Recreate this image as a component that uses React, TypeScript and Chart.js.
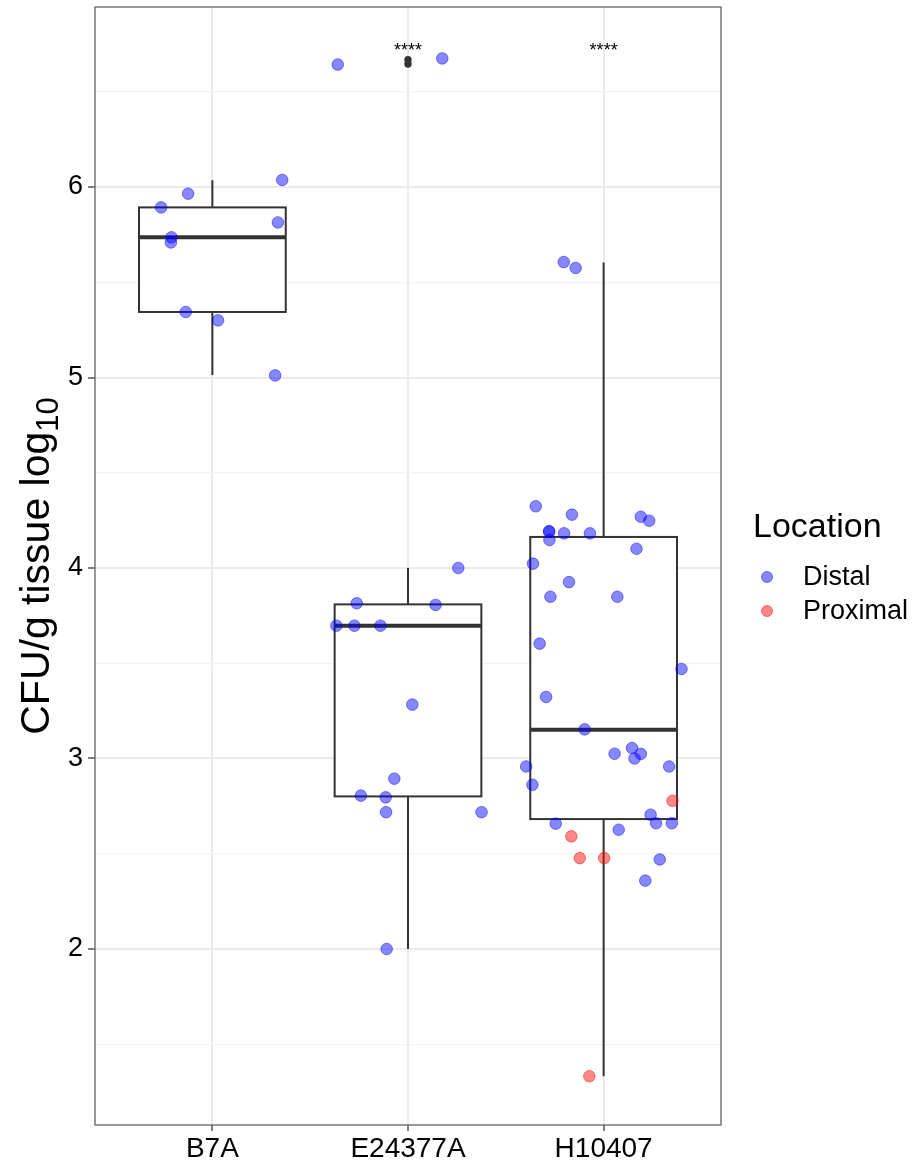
import React, { useEffect, useRef } from "react";
import { Chart, registerables } from "chart.js";

Chart.register(...registerables);

// ---------- data ----------
const CATEGORIES = ["B7A", "E24377A", "H10407"];
const Y_MAJOR_TICKS = [2, 3, 4, 5, 6];
const Y_MINOR_TICKS = [1.5, 2.5, 3.5, 4.5, 5.5, 6.5];
const SERIES = ["Distal", "Proximal"];

// B7A (all distal)
const B7A_DISTAL_Y = [6.037, 5.965, 5.893, 5.814, 5.736, 5.709, 5.344, 5.3, 5.011];
const B7A_DISTAL_JITTER = [0.357, -0.124, -0.262, 0.335, -0.209, -0.212, -0.136, 0.029, 0.321];

// E24377A (all distal)
const E24377A_DISTAL_Y = [6.643, 6.675, 4.0, 3.815, 3.806, 3.697, 3.697, 3.697, 3.283, 2.894, 2.805, 2.796, 2.718, 2.718, 2.0];
const E24377A_DISTAL_JITTER = [-0.359, 0.175, 0.257, -0.262, 0.141, -0.366, -0.274, -0.141, 0.022, -0.07, -0.241, -0.114, -0.112, 0.376, -0.109];

// H10407
const H10407_DISTAL_Y = [
  5.606, 5.575, 4.324, 4.28, 4.269, 4.248, 4.194, 4.19, 4.147, 4.182, 4.182, 4.101, 4.023, 3.926, 3.849, 3.849,
  3.603, 3.47, 3.323, 3.153, 3.055, 3.025, 3.024, 3.0, 2.958, 2.958, 2.862, 2.705, 2.658, 2.66, 2.66, 2.626, 2.47, 2.359,
];
const H10407_DISTAL_JITTER = [
  -0.204, -0.143, -0.347, -0.162, 0.19, 0.233, -0.279, -0.278, -0.277, -0.202, -0.07, 0.168, -0.361, -0.177, -0.272, 0.07,
  -0.327, 0.398, -0.294, -0.097, 0.145, 0.056, 0.19, 0.158, -0.396, 0.335, -0.364, 0.24, -0.245, 0.268, 0.349, 0.077, 0.287, 0.213,
];
const H10407_PROXIMAL_Y = [2.778, 2.591, 2.477, 2.477, 1.332];
const H10407_PROXIMAL_JITTER = [0.352, -0.165, -0.122, 0.003, -0.073];

// box statistics per category
const BOX_Q1 = [5.344, 2.801, 2.682];
const BOX_MEDIAN = [5.736, 3.697, 3.151];
const BOX_Q3 = [5.893, 3.809, 4.163];
const WHISKER_LOW = [5.013, 2.0, 1.332];
const WHISKER_HIGH = [6.035, 4.0, 5.604];
const OUTLIERS = [[], [6.668, 6.646], []];
const BOX_WIDTH = 0.75;

// significance labels
const SIGNIF_LABELS = ["", "****", "****"];
const SIGNIF_Y = 6.69;

const Y_MIN = 1.076;
const Y_MAX = 6.945;
const X_MIN = -0.6;
const X_MAX = 2.6;

// ---------- styles ----------
const FONT = "'Liberation Sans', Arial, Helvetica, sans-serif";
const DISTAL_COLOR = "rgba(0,0,255,0.47)";
const PROXIMAL_COLOR = "rgba(255,0,0,0.47)";
const BOX_COLOR = "#333333";

function pts(cat: number, ys: number[], jit: number[]) {
  return ys.map((y, i) => ({ x: cat + jit[i], y }));
}

const boxPlugin = {
  id: "boxPlugin",
  beforeDatasetsDraw(chart: any) {
    const { ctx, scales } = chart;
    const xs = scales.x;
    const ys = scales.y;
    ctx.save();
    CATEGORIES.forEach((_, i) => {
      const cx = xs.getPixelForValue(i);
      const hw = Math.abs(xs.getPixelForValue(i + BOX_WIDTH / 2) - cx);
      const q1 = ys.getPixelForValue(BOX_Q1[i]);
      const q3 = ys.getPixelForValue(BOX_Q3[i]);
      const med = ys.getPixelForValue(BOX_MEDIAN[i]);
      const lo = ys.getPixelForValue(WHISKER_LOW[i]);
      const hi = ys.getPixelForValue(WHISKER_HIGH[i]);
      ctx.strokeStyle = BOX_COLOR;
      ctx.lineWidth = 2;
      ctx.beginPath();
      ctx.moveTo(cx, q3);
      ctx.lineTo(cx, hi);
      ctx.moveTo(cx, q1);
      ctx.lineTo(cx, lo);
      ctx.stroke();
      ctx.fillStyle = "#ffffff";
      ctx.fillRect(cx - hw, q3, 2 * hw, q1 - q3);
      ctx.strokeRect(cx - hw, q3, 2 * hw, q1 - q3);
      ctx.lineWidth = 4;
      ctx.beginPath();
      ctx.moveTo(cx - hw, med);
      ctx.lineTo(cx + hw, med);
      ctx.stroke();
      ctx.fillStyle = BOX_COLOR;
      OUTLIERS[i].forEach((v) => {
        ctx.beginPath();
        ctx.arc(cx, ys.getPixelForValue(v), 3.7, 0, Math.PI * 2);
        ctx.fill();
      });
      if (SIGNIF_LABELS[i]) {
        ctx.fillStyle = "#000";
        ctx.font = `18px ${FONT}`;
        ctx.textAlign = "center";
        ctx.textBaseline = "alphabetic";
        ctx.fillText(SIGNIF_LABELS[i], cx, ys.getPixelForValue(SIGNIF_Y));
      }
    });
    ctx.restore();
  },
  afterDraw(chart: any) {
    const { ctx, chartArea } = chart;
    ctx.save();
    // panel border
    ctx.strokeStyle = "#6e6e6e";
    ctx.lineWidth = 1.4;
    ctx.strokeRect(chartArea.left, chartArea.top, chartArea.right - chartArea.left, chartArea.bottom - chartArea.top);

    // y title with subscript
    const mainFont = `41px ${FONT}`;
    const subFont = `31px ${FONT}`;
    const mainText = "CFU/g tissue log";
    const subText = "10";
    ctx.font = mainFont;
    const wMain = ctx.measureText(mainText).width;
    ctx.font = subFont;
    const wSub = ctx.measureText(subText).width;
    const total = wMain + wSub;
    const cy = (chartArea.top + chartArea.bottom) / 2;
    ctx.translate(49, cy);
    ctx.rotate(-Math.PI / 2);
    ctx.fillStyle = "#000";
    ctx.textAlign = "left";
    ctx.textBaseline = "alphabetic";
    ctx.font = mainFont;
    ctx.fillText(mainText, -total / 2, 0);
    ctx.font = subFont;
    ctx.fillText(subText, -total / 2 + wMain, 9);
    ctx.setTransform(1, 0, 0, 1, 0, 0);

    // legend
    ctx.fillStyle = "#000";
    ctx.font = `34px ${FONT}`;
    ctx.textAlign = "left";
    ctx.textBaseline = "alphabetic";
    ctx.fillText("Location", 753, 537);
    const colors = [DISTAL_COLOR, PROXIMAL_COLOR];
    SERIES.forEach((name, k) => {
      const y = 577 + k * 34;
      ctx.beginPath();
      ctx.arc(767, y, 5.5, 0, Math.PI * 2);
      ctx.fillStyle = colors[k];
      ctx.fill();
      ctx.lineWidth = 1;
      ctx.strokeStyle = colors[k];
      ctx.stroke();
      ctx.fillStyle = "#000";
      ctx.font = `27px ${FONT}`;
      ctx.textBaseline = "middle";
      ctx.fillText(name, 803, y + 1);
    });
    ctx.restore();
  },
};

export default function App() {
  const ref = useRef<HTMLCanvasElement | null>(null);
  useEffect(() => {
    if (!ref.current) return;
    const distal = [
      ...pts(0, B7A_DISTAL_Y, B7A_DISTAL_JITTER),
      ...pts(1, E24377A_DISTAL_Y, E24377A_DISTAL_JITTER),
      ...pts(2, H10407_DISTAL_Y, H10407_DISTAL_JITTER),
    ];
    const proximal = pts(2, H10407_PROXIMAL_Y, H10407_PROXIMAL_JITTER);
    const isMajor = (v: number) => Y_MAJOR_TICKS.includes(v);
    const chart = new Chart(ref.current, {
      type: "scatter",
      data: {
        datasets: [
          {
            label: SERIES[0],
            data: distal,
            backgroundColor: DISTAL_COLOR,
            borderColor: DISTAL_COLOR,
            borderWidth: 1,
            pointRadius: 5.8,
          },
          {
            label: SERIES[1],
            data: proximal,
            backgroundColor: PROXIMAL_COLOR,
            borderColor: PROXIMAL_COLOR,
            borderWidth: 1,
            pointRadius: 5.8,
          },
        ],
      },
      options: {
        animation: false,
        responsive: true,
        maintainAspectRatio: false,
        layout: { padding: { left: 0, top: 7, right: 192, bottom: 0 } },
        plugins: { legend: { display: false }, tooltip: { enabled: false } },
        scales: {
          x: {
            type: "linear",
            min: X_MIN,
            max: X_MAX,
            afterBuildTicks: (scale: any) => {
              scale.ticks = CATEGORIES.map((_, i) => ({ value: i }));
            },
            afterFit: (scale: any) => {
              scale.height = 35;
              scale.paddingLeft = 0;
              scale.paddingRight = 0;
            },
            ticks: {
              autoSkip: false,
              maxRotation: 0,
              padding: 1,
              color: "#000",
              font: { family: FONT, size: 28 },
              callback: (v: any) => CATEGORIES[v as number] ?? "",
            },
            grid: {
              color: "#EBEBEB",
              lineWidth: 2,
              tickLength: 6,
              tickColor: "#555555",
              tickWidth: 1.5,
            },
            border: { display: false },
          },
          y: {
            type: "linear",
            min: Y_MIN,
            max: Y_MAX,
            afterBuildTicks: (scale: any) => {
              scale.ticks = [...Y_MINOR_TICKS, ...Y_MAJOR_TICKS]
                .sort((a, b) => a - b)
                .map((v) => ({ value: v }));
            },
            afterFit: (scale: any) => {
              scale.width = 95;
              scale.paddingTop = 0;
              scale.paddingBottom = 0;
            },
            ticks: {
              autoSkip: false,
              padding: 5,
              color: "#000",
              font: { family: FONT, size: 27 },
              callback: (v: any) => (isMajor(v as number) ? String(v) : ""),
            },
            grid: {
              color: (c: any) => (isMajor(c.tick?.value) ? "#EBEBEB" : "#F3F3F3"),
              lineWidth: (c: any) => (isMajor(c.tick?.value) ? 2 : 1.2),
              tickLength: 7,
              tickColor: (c: any) => (isMajor(c.tick?.value) ? "#555555" : "rgba(0,0,0,0)"),
              tickWidth: 1.5,
            },
            border: { display: false },
          },
        },
      },
      plugins: [boxPlugin],
    });
    return () => chart.destroy();
  }, []);
  return (
    <div style={{ position: "absolute", left: 0, top: 0, width: 913, height: 1160, background: "#fff" }}>
      <canvas ref={ref} />
    </div>
  );
}
